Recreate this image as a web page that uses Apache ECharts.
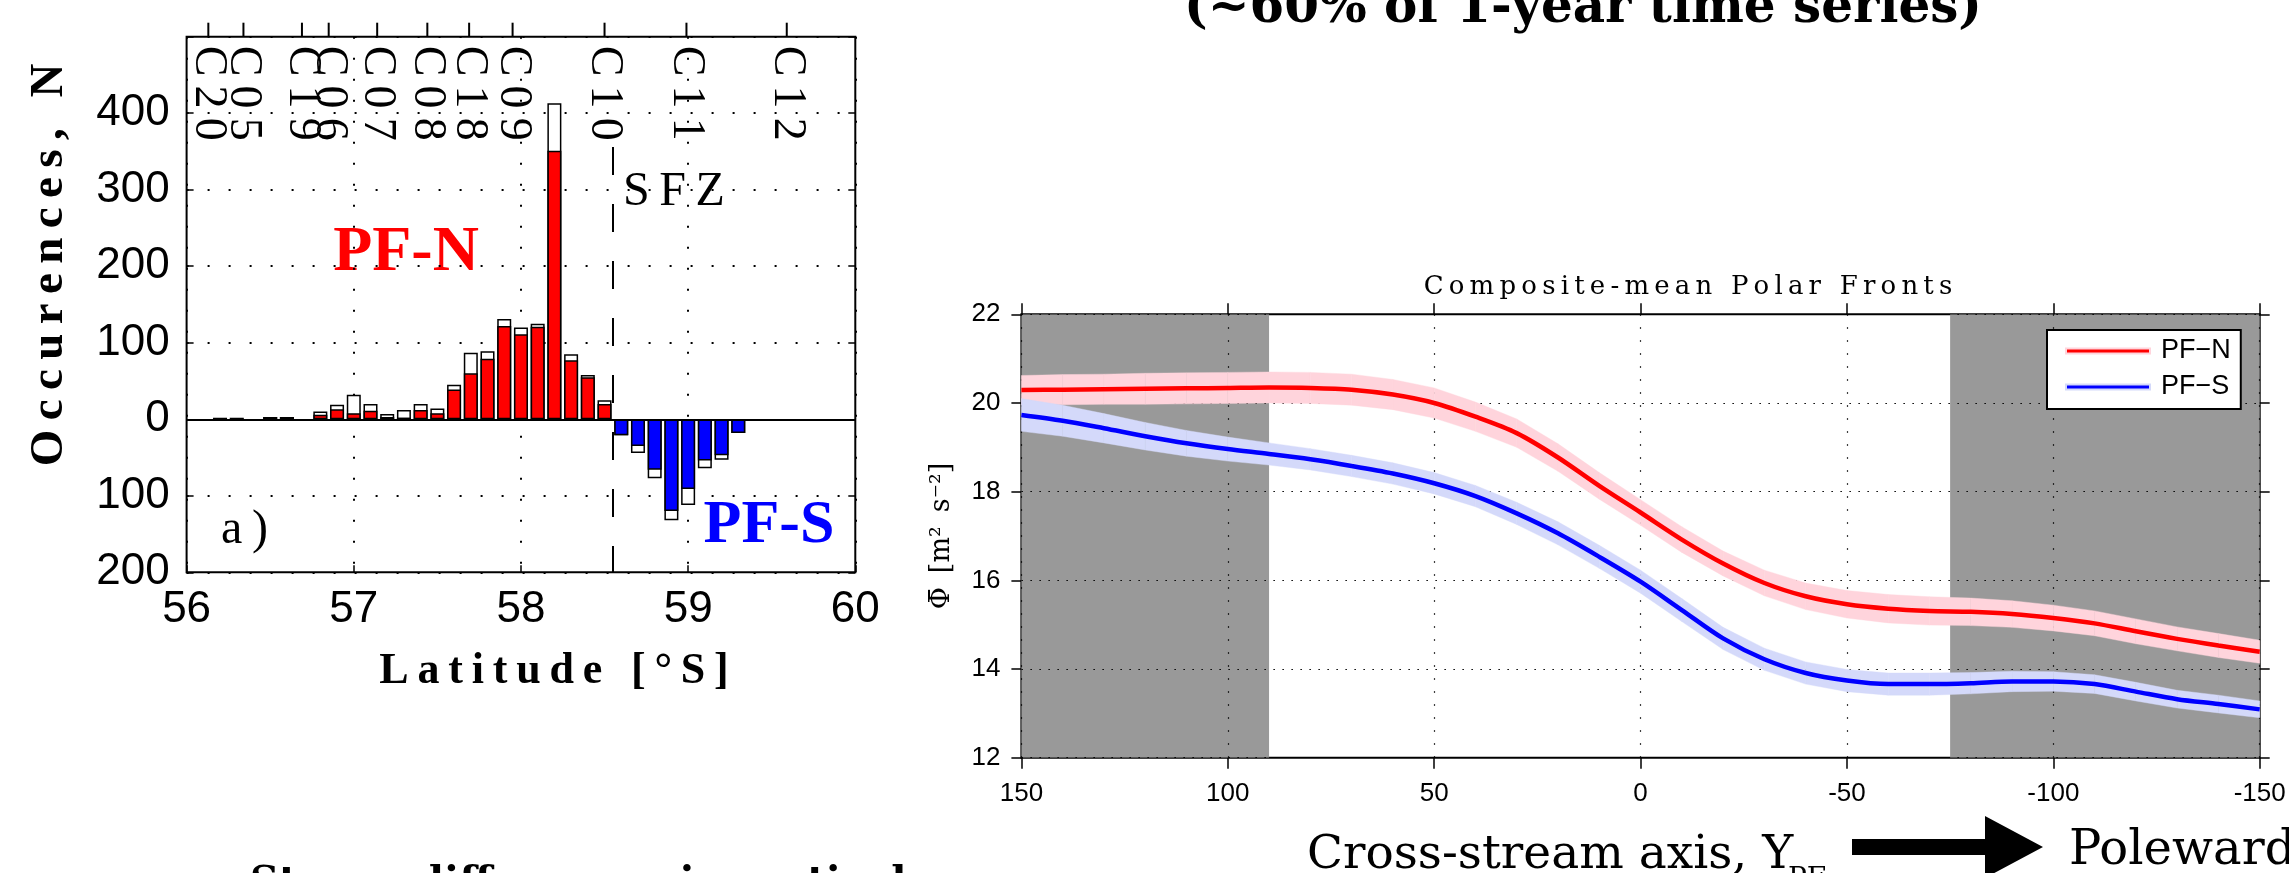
<!DOCTYPE html>
<html>
<head>
<meta charset="utf-8">
<title>Polar Fronts</title>
<script src="https://cdn.jsdelivr.net/npm/echarts@6/dist/echarts.min.js"></script>
<style>
  html, body { margin: 0; padding: 0; background: #fff; }
  #chart { width: 2289px; height: 873px; }
</style>
</head>
<body>
<div id="chart"></div>
<script>
// ---- a) histogram of front positions (0.1 deg bins) ----
var latN   = [56.2, 56.3, 56.5, 56.6, 56.8, 56.9, 57.0, 57.1, 57.2, 57.3, 57.4, 57.5, 57.6, 57.7, 57.8, 57.9, 58.0, 58.1, 58.2, 58.3, 58.4, 58.5];
var pfnAll = [2, 2, 3, 3, 10, 19, 32, 20, 7, 12, 20, 14, 45, 87, 89, 131, 120, 125, 413, 85, 58, 25];
var pfnSub = [1, 1, 3, 3, 6, 13, 8, 11, 3, 2, 12, 8, 39, 60, 79, 122, 111, 121, 351, 77, 55, 20];
var latS   = [58.6, 58.7, 58.8, 58.9, 59.0, 59.1, 59.2, 59.3];
var pfsAll = [21, 44, 77, 132, 112, 64, 53, 18];
var pfsSub = [21, 35, 66, 120, 91, 54, 47, 18];

// cruise tracks marked along the top of panel a)
var cruiseNames = ['C20', 'C05', 'C19', 'C06', 'C07', 'C08', 'C18', 'C09', 'C10', 'C11', 'C12'];
var cruiseLat   = [56.13, 56.34, 56.69, 56.85, 57.14, 57.44, 57.69, 57.95, 58.50, 58.99, 59.59];
var sfzLat = 58.55;
var sfzTop = 356;

// ---- composite-mean polar fronts ----
var crossY = [150, 140, 130, 120, 110, 100, 90, 80, 70, 60, 50, 40, 30, 20, 10, 0,
              -10, -20, -30, -40, -50, -60, -70, -80, -90, -100, -110, -120, -130, -140, -150];
var phiN = [20.29, 20.30, 20.31, 20.32, 20.33, 20.34, 20.35, 20.34, 20.30, 20.19, 20.00, 19.69, 19.32, 18.77, 18.13, 17.53,
            16.92, 16.38, 15.94, 15.64, 15.46, 15.36, 15.31, 15.29, 15.24, 15.15, 15.03, 14.85, 14.68, 14.53, 14.39];
var phiNSpread = [0.33, 0.34, 0.34, 0.35, 0.35, 0.35, 0.35, 0.35, 0.35, 0.34, 0.34, 0.33, 0.32, 0.31, 0.30, 0.29,
                  0.29, 0.28, 0.29, 0.30, 0.31, 0.32, 0.32, 0.31, 0.30, 0.29, 0.28, 0.28, 0.27, 0.27, 0.26];
var phiS = [19.73, 19.60, 19.43, 19.25, 19.09, 18.96, 18.85, 18.73, 18.58, 18.41, 18.19, 17.90, 17.51, 17.06, 16.53, 15.97,
            15.33, 14.69, 14.22, 13.91, 13.74, 13.66, 13.66, 13.68, 13.72, 13.72, 13.66, 13.49, 13.32, 13.21, 13.09];
var phiSSpread = [0.37, 0.35, 0.33, 0.31, 0.29, 0.27, 0.25, 0.24, 0.24, 0.24, 0.24, 0.24, 0.25, 0.26, 0.26, 0.26,
                  0.26, 0.25, 0.25, 0.25, 0.25, 0.25, 0.25, 0.24, 0.23, 0.22, 0.21, 0.21, 0.20, 0.20, 0.19];
var shadeRanges = [[150, 90], [-75, -150]];

var SANS = '"Liberation Sans", Arial, sans-serif';
var SERIF = '"Liberation Serif", serif';
var SLIDE = '"DejaVu Serif", serif';

// latex-ish letter spacing
var spaced = function (s) {
    return s.split('').join('\u2009');
};

var pairs = function (xs, ys, sign) {
    return xs.map(function (x, i) { return [x, sign * ys[i]]; });
};

var bandSeries = function (name, ys, spread, color) {
    var rows = crossY.map(function (x, i) { return [x, ys[i] - spread[i], ys[i] + spread[i]]; });
    return {
        name: name,
        type: 'custom',
        xAxisIndex: 1,
        yAxisIndex: 2,
        z: 2,
        silent: true,
        clip: true,
        data: rows,
        encode: { x: 0, y: [1, 2] },
        renderItem: function (params, api) {
            var i = params.dataIndex;
            if (i >= rows.length - 1) return null;
            var a = rows[i], b = rows[i + 1];
            return {
                type: 'polygon',
                shape: { points: [api.coord([a[0], a[2]]), api.coord([b[0], b[2]]), api.coord([b[0], b[1]]), api.coord([a[0], a[1]])] },
                style: { fill: color, stroke: color, lineWidth: 0.4 }
            };
        }
    };
};

var dotted = function (dash, w) {
    return { show: true, lineStyle: { color: '#000', width: w, type: dash } };
};

var noLine = { show: false, onZero: false };

var txt = function (x, y, text, font, fill, align, rotation) {
    return {
        type: 'text', x: x, y: y, rotation: rotation || 0,
        style: { text: text, font: font, fill: fill, align: align, verticalAlign: 'middle', textAlign: align, textVerticalAlign: 'middle' }
    };
};

var option = {
    animation: false,
    backgroundColor: '#fff',
    grid: [
        { left: 186.6, top: 36.7, width: 668.7, height: 535.6, show: true, borderColor: '#000', borderWidth: 2, backgroundColor: 'transparent', outerBoundsMode: 'none' },
        { left: 1021.4, top: 314.3, width: 1238.3, height: 443.4, show: true, borderColor: '#000', borderWidth: 2, backgroundColor: 'transparent', outerBoundsMode: 'none' }
    ],
    xAxis: [
        {
            gridIndex: 0, type: 'value', position: 'bottom', min: 56, max: 60, interval: 1,
            axisLine: noLine,
            axisTick: { inside: true, length: 7, lineStyle: { color: '#000', width: 1.5 } },
            axisLabel: { color: '#000', fontFamily: SANS, fontSize: 44, margin: 16 },
            splitLine: dotted([2, 19], 2)
        },
        {
            gridIndex: 1, type: 'value', position: 'bottom', min: -150, max: 150, interval: 50, inverse: true,
            axisLine: noLine,
            axisTick: { inside: false, length: 11, lineStyle: { color: '#000', width: 1.5 } },
            axisLabel: { color: '#000', fontFamily: SANS, fontSize: 26, margin: 23 },
            splitLine: { show: false }
        },
        {
            gridIndex: 1, type: 'value', position: 'top', min: -150, max: 150, interval: 50, inverse: true, z: 1.5,
            axisLine: noLine,
            axisTick: { inside: false, length: 11, lineStyle: { color: '#000', width: 1.5 } },
            axisLabel: { show: false },
            splitLine: dotted([1.5, 11.5], 1.2)
        }
    ],
    yAxis: [
        {
            gridIndex: 0, type: 'value', position: 'left', min: -200, max: 500, interval: 100,
            axisLine: noLine,
            axisTick: { inside: true, length: 7, lineStyle: { color: '#000', width: 1.5 } },
            axisLabel: {
                color: '#000', fontFamily: SANS, fontSize: 44, margin: 17,
                formatter: function (v) { return v === 500 ? '' : String(Math.abs(v)); }
            },
            splitLine: dotted([2, 19], 2)
        },
        {
            gridIndex: 0, type: 'value', position: 'right', min: -200, max: 500, interval: 100,
            axisLine: noLine,
            axisTick: { inside: true, length: 7, lineStyle: { color: '#000', width: 1.5 } },
            axisLabel: { show: false },
            splitLine: { show: false }
        },
        {
            gridIndex: 1, type: 'value', position: 'left', min: 12, max: 22, interval: 2,
            axisLine: noLine,
            axisTick: { inside: false, length: 10, lineStyle: { color: '#000', width: 1.5 } },
            axisLabel: { color: '#000', fontFamily: SANS, fontSize: 26, margin: 21 },
            splitLine: { show: false },
            name: '\u03A6\u0304 \u2009[m\u00B2\u2009 s\u207B\u00B2]',
            nameLocation: 'middle', nameRotate: 90, nameGap: 66,
            nameTextStyle: { color: '#000', fontFamily: SLIDE, fontSize: 27 }
        },
        {
            gridIndex: 1, type: 'value', position: 'right', min: 12, max: 22, interval: 2, z: 1.5,
            axisLine: noLine,
            axisTick: { inside: false, length: 10, lineStyle: { color: '#000', width: 1.5 } },
            axisLabel: { show: false },
            splitLine: dotted([1.5, 7.5], 1.2)
        }
    ],
    legend: {
        orient: 'vertical',
        left: 2047, top: 330,
        padding: [6, 10, 7, 18],
        itemGap: 6,
        itemWidth: 84, itemHeight: 5,
        icon: 'rect',
        selectedMode: false,
        backgroundColor: '#fff',
        borderColor: '#000', borderWidth: 2,
        textStyle: { color: '#000', fontFamily: SANS, fontSize: 27, lineHeight: 30, padding: [0, 0, 0, 6] },
        data: [
            { name: 'PF\u2212N', itemStyle: { borderColor: '#ffd4dc', borderWidth: 2 } },
            { name: 'PF\u2212S', itemStyle: { borderColor: '#d4d9fa', borderWidth: 2 } }
        ]
    },
    series: [
        {
            name: 'PF-N total', type: 'bar', xAxisIndex: 0, yAxisIndex: 0,
            barWidth: 14, barGap: '-100%',
            data: pairs(latN, pfnAll, 1),
            itemStyle: { color: '#fff', borderColor: '#000', borderWidth: 1.5 },
            markLine: {
                silent: true, symbol: ['none', 'none'], label: { show: false },
                lineStyle: { color: '#000', width: 2, type: 'solid' },
                data: [{ yAxis: 0 }]
            }
        },
        {
            name: 'PF-N', type: 'bar', xAxisIndex: 0, yAxisIndex: 0,
            barWidth: 14, barGap: '-100%',
            data: pairs(latN, pfnSub, 1),
            itemStyle: { color: '#ff0000', borderColor: '#000', borderWidth: 1.5 }
        },
        {
            name: 'PF-S total', type: 'bar', xAxisIndex: 0, yAxisIndex: 0,
            barWidth: 14, barGap: '-100%',
            data: pairs(latS, pfsAll, -1),
            itemStyle: { color: '#fff', borderColor: '#000', borderWidth: 1.5 }
        },
        {
            name: 'PF-S', type: 'bar', xAxisIndex: 0, yAxisIndex: 0,
            barWidth: 14, barGap: '-100%',
            data: pairs(latS, pfsSub, -1),
            itemStyle: { color: '#0000ff', borderColor: '#000', borderWidth: 1.5 },
            markLine: {
                silent: true, symbol: ['none', 'none'], label: { show: false },
                lineStyle: { color: '#000', width: 2, type: [28, 29] },
                data: [[{ coord: [sfzLat, sfzTop] }, { coord: [sfzLat, -200] }]]
            }
        },
        {
            // cruise ticks above the frame, names hanging inside it
            name: 'cruises', type: 'custom', xAxisIndex: 0, yAxisIndex: 0, z: 3, silent: true, clip: false,
            data: cruiseLat.map(function (lat) { return [lat, 500]; }),
            renderItem: function (params, api) {
                var p = api.coord([api.value(0), api.value(1)]);
                return {
                    type: 'group',
                    children: [
                        { type: 'line', shape: { x1: p[0], y1: p[1], x2: p[0], y2: p[1] - 14 }, style: { stroke: '#000', lineWidth: 2 } },
                        {
                            type: 'text', x: p[0], y: p[1] + 9, rotation: -Math.PI / 2,
                            style: { text: spaced(cruiseNames[params.dataIndex]), font: '46px ' + SERIF, fill: '#000', align: 'left', verticalAlign: 'middle', textAlign: 'left', textVerticalAlign: 'middle' }
                        }
                    ]
                };
            }
        },
        {
            name: 'shade', type: 'custom', xAxisIndex: 1, yAxisIndex: 2, z: 1, silent: true, clip: true,
            data: shadeRanges.map(function (r) { return [r[0], r[1], 12, 22]; }),
            encode: { x: [0, 1], y: [2, 3] },
            renderItem: function (params, api) {
                var p0 = api.coord([api.value(0), api.value(3)]);
                var p1 = api.coord([api.value(1), api.value(2)]);
                return {
                    type: 'rect',
                    shape: { x: Math.min(p0[0], p1[0]), y: p0[1], width: Math.abs(p1[0] - p0[0]), height: p1[1] - p0[1] },
                    style: { fill: '#999999' }
                };
            }
        },
        bandSeries('PF-N band', phiN, phiNSpread, '#ffd4dc'),
        bandSeries('PF-S band', phiS, phiSSpread, '#d4d9fa'),
        {
            name: 'PF\u2212N', type: 'line', xAxisIndex: 1, yAxisIndex: 2, z: 3,
            data: pairs(crossY, phiN, 1),
            smooth: 0.3, showSymbol: false, symbol: 'none',
            itemStyle: { color: '#ff0000' },
            lineStyle: { color: '#ff0000', width: 4.5 }
        },
        {
            name: 'PF\u2212S', type: 'line', xAxisIndex: 1, yAxisIndex: 2, z: 3,
            data: pairs(crossY, phiS, 1),
            smooth: 0.3, showSymbol: false, symbol: 'none',
            itemStyle: { color: '#0000ff' },
            lineStyle: { color: '#0000ff', width: 4.5 }
        }
    ],
    graphic: [
        // slide text around the figures
        txt(1583, 9, '(~60% of 1-year time series)', 'bold 50px ' + SLIDE, '#000', 'center'),
        txt(1307, 856, 'Cross-stream axis, Y', '47px ' + SLIDE, '#000', 'left'),
        txt(1788, 880, 'PF', '28px ' + SLIDE, '#000', 'left'),
        { type: 'polygon', shape: { points: [[1852, 839], [1985, 839], [1985, 816], [2043, 847], [1985, 878], [1985, 855], [1852, 855]] }, style: { fill: '#000' } },
        txt(2069, 852, 'Poleward', '48px ' + SLIDE, '#000', 'left'),
        txt(250, 884, 'Strong differences in vertical', 'bold 40px ' + SLIDE, '#000', 'left'),
        // panel titles and annotations
        txt(1688, 287, spaced('Composite-mean Polar Fronts'), '26px ' + SLIDE, '#000', 'center'),
        txt(50, 265, spaced('Occurences, N'), 'bold 47px ' + SERIF, '#000', 'center', Math.PI / 2),
        txt(554, 672, spaced('Latitude [\u00B0S]'), 'bold 44px ' + SERIF, '#000', 'center'),
        txt(406, 253, 'PF-N', 'bold 64px ' + SERIF, '#ff0000', 'center'),
        txt(769, 526, 'PF-S', 'bold 62px ' + SERIF, '#0000ff', 'center'),
        txt(221, 530, 'a\u2009)', '48px ' + SERIF, '#000', 'left'),
        txt(623, 192, spaced('SFZ'), '48px ' + SERIF, '#000', 'left')
    ]
};

var chart = echarts.init(document.getElementById('chart'), null, { renderer: 'canvas' });
chart.setOption(option);
</script>
</body>
</html>
